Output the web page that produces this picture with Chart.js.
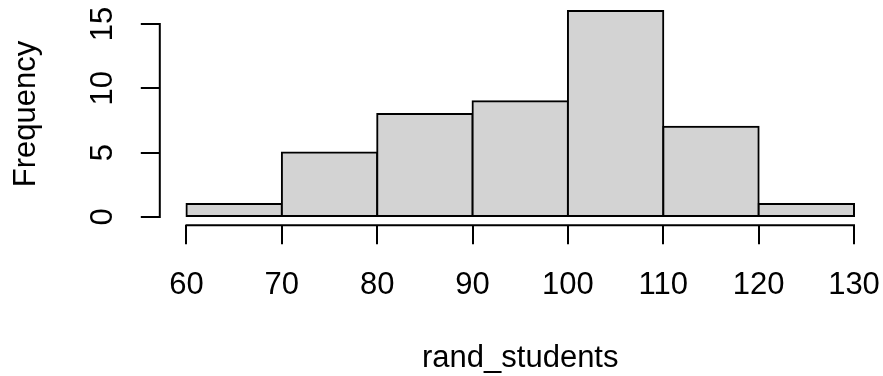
<!DOCTYPE html>
<html>
<head>
<meta charset="utf-8">
<script src="https://cdn.jsdelivr.net/npm/chart.js@4.4.1/dist/chart.umd.min.js"></script>
<style>
  html, body { margin: 0; padding: 0; background: #fff; }
  #wrap { width: 883px; height: 376px; }
</style>
</head>
<body>
<div id="wrap"><canvas id="hist"></canvas></div>
<script>
// hist(rand_students) -- bins of width 10
const binStarts = [60, 70, 80, 90, 100, 110, 120];
const binWidth = 10;
const counts = [1, 5, 8, 9, 16, 7, 1];
const xTicks = [60, 70, 80, 90, 100, 110, 120, 130];
const yTicks = [0, 5, 10, 15];
const xTitle = 'rand_students';
const yTitle = 'Frequency';

// R extends both axis ranges by 4%
const xLo = binStarts[0], xHi = binStarts[binStarts.length - 1] + binWidth;
const yHi = Math.max(...counts);
const xPad = 0.04 * (xHi - xLo), yPad = 0.04 * yHi;

const FONT = { family: "'Liberation Sans', Arial, Helvetica, sans-serif", size: 31 };

// R draws the axis lines only between the first and last tick
const axisLines = {
  id: 'axisLines',
  afterDraw(chart) {
    const { ctx, scales: { x, y } } = chart;
    ctx.save();
    ctx.strokeStyle = '#000';
    ctx.lineWidth = 2;
    ctx.beginPath();
    ctx.moveTo(x.getPixelForValue(xTicks[0]) - 1, x.top);
    ctx.lineTo(x.getPixelForValue(xTicks[xTicks.length - 1]) + 1, x.top);
    ctx.moveTo(y.right, y.getPixelForValue(yTicks[0]) + 1);
    ctx.lineTo(y.right, y.getPixelForValue(yTicks[yTicks.length - 1]) - 1);
    ctx.stroke();
    ctx.restore();
  }
};

new Chart(document.getElementById('hist'), {
  type: 'bar',
  data: {
    datasets: [{
      data: binStarts.map((s, i) => ({ x: s + binWidth / 2, y: counts[i] })),
      backgroundColor: '#d3d3d3',
      borderColor: '#000',
      borderWidth: 2,
      borderSkipped: false,
      // push the 2px outline out by 1px so it sits centred on the bin edges, like R's rect()
      inflateAmount: 1,
      barPercentage: 1,
      categoryPercentage: 1
    }]
  },
  options: {
    responsive: true,
    maintainAspectRatio: false,
    animation: false,
    layout: { padding: { top: 2.8, right: 2.3, left: 0, bottom: 0 } },
    plugins: { legend: { display: false }, tooltip: { enabled: false } },
    scales: {
      x: {
        type: 'linear',
        bounds: 'data',
        offset: false,
        min: xLo - xPad,
        max: xHi + xPad,
        afterBuildTicks: s => { s.ticks = xTicks.map(v => ({ value: v })); },
        afterFit: s => { s.height = 150.8; s.paddingLeft = 0; s.paddingRight = 0; },
        grid: { offset: false, drawOnChartArea: false, drawTicks: true, tickLength: 19, color: '#000', lineWidth: 2 },
        border: { display: false },
        ticks: { color: '#000', font: FONT, padding: 23, maxRotation: 0, autoSkip: false },
        title: { display: true, text: xTitle, color: '#000', font: FONT, padding: { top: 0, bottom: -1 } }
      },
      y: {
        bounds: 'data',
        min: -yPad,
        max: yHi + yPad,
        afterBuildTicks: s => { s.ticks = yTicks.map(v => ({ value: v })); },
        afterFit: s => { s.width = 159.8; s.paddingTop = 0; s.paddingBottom = 0; },
        grid: { drawOnChartArea: false, drawTicks: true, tickLength: 19, color: '#000', lineWidth: 2 },
        border: { display: false },
        ticks: { color: '#000', font: FONT, padding: 20, minRotation: 90, maxRotation: 90, crossAlign: 'center', autoSkip: false },
        title: { display: true, text: yTitle, color: '#000', font: FONT, padding: { top: 8, bottom: 0 } }
      }
    }
  },
  plugins: [axisLines]
});
</script>
</body>
</html>
